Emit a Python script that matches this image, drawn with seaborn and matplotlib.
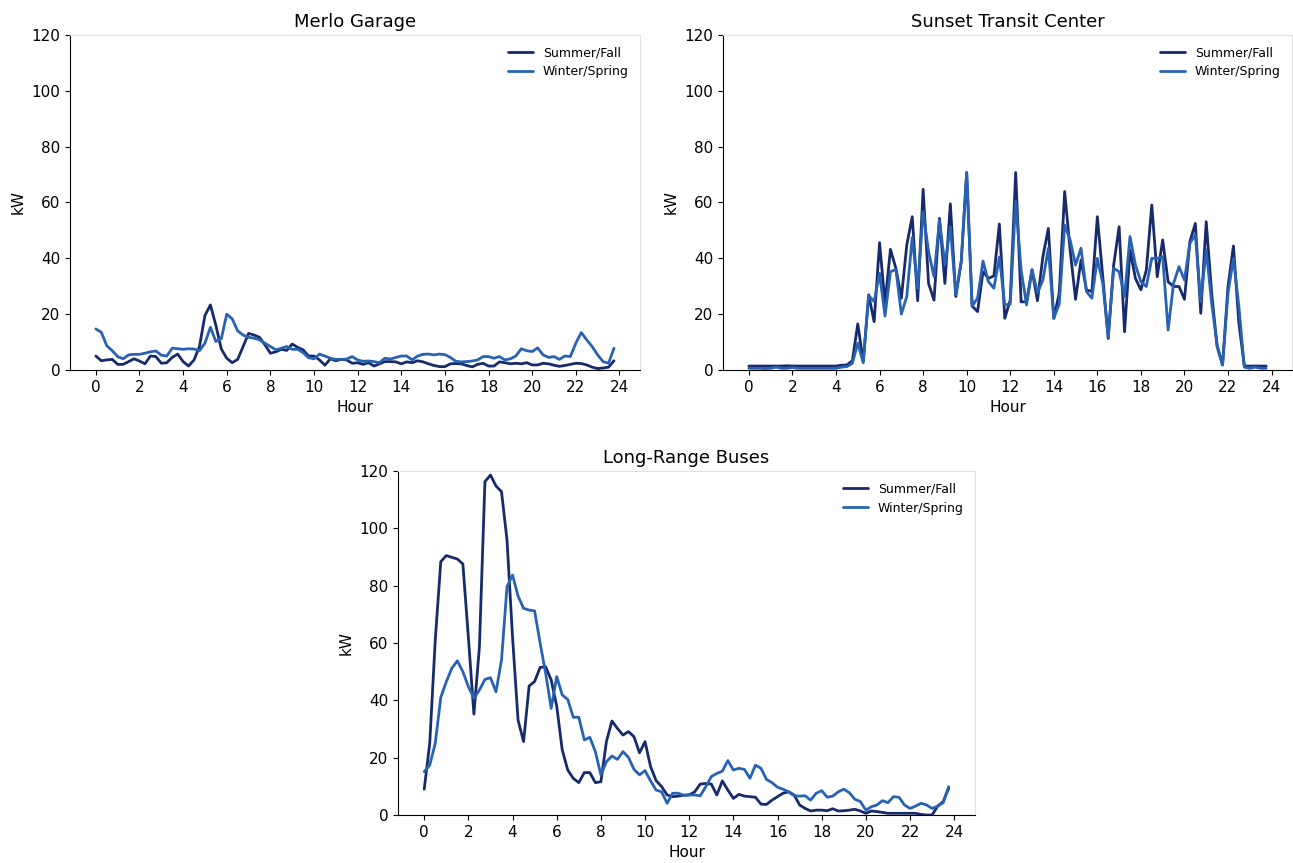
import numpy as np
import pandas as pd
import matplotlib
matplotlib.use("Agg")
import matplotlib.pyplot as plt
import seaborn as sns

# === 15-minute load profiles (kW) ===
hours = np.arange(96) * 0.25
seasons = ["Summer/Fall", "Winter/Spring"]

merlo_summer = [
    5, 3.3, 3.6, 3.8, 2, 2, 3, 4, 3.2, 2.2, 5, 4.8, 2.4, 2.6, 4.5, 5.7,
    3, 1.4, 3.6, 8.4, 19.5, 23.3, 16, 7.5, 4.2, 2.6, 3.8, 8.4, 13.1, 12.5, 11.7, 9,
    6, 6.5, 7.4, 7, 9.3, 8.1, 7.2, 5, 5, 3.6, 1.7, 4, 3.3, 3.8, 3.6, 2.4,
    2.6, 2, 2.6, 1.4, 2.2, 3, 3, 2.9, 2.2, 2.9, 2.6, 3.3, 2.9, 2.2, 1.6, 1.2,
    1.2, 2.2, 2.3, 2.2, 1.6, 1.1, 2, 2.4, 1.4, 1.4, 2.9, 2.6, 2.2, 2.4, 2.2, 2.6,
    1.8, 1.8, 2.4, 2.2, 1.7, 1.3, 1.6, 2, 2.4, 2.3, 1.8, 1, 0.5, 0.7, 1, 3.3,
]
merlo_winter = [
    14.7, 13.5, 8.7, 6.9, 4.8, 4, 5.4, 5.6, 5.6, 6, 6.5, 6.8, 5.3, 5, 7.8, 7.6,
    7.4, 7.6, 7.5, 6.9, 9.6, 15.3, 10.2, 11.2, 20, 18.3, 14, 12.5, 11.7, 11.4, 10.8, 9.6,
    8.4, 7.2, 7.8, 8.4, 7.4, 7.4, 6.2, 4.4, 4, 5.7, 5, 4.2, 3.8, 3.8, 3.9, 4.8,
    3.6, 3.1, 3.2, 3, 2.6, 4.2, 3.9, 4.5, 5, 5, 3.6, 5, 5.6, 5.7, 5.4, 5.7,
    5.5, 4.5, 3.1, 2.9, 3, 3.2, 3.6, 4.8, 4.8, 4.2, 4.8, 3.6, 4, 5, 7.6, 6.9,
    6.6, 7.9, 5.4, 4.5, 4.8, 3.8, 5, 4.8, 9.6, 13.4, 10.8, 8.4, 5.4, 3, 2.4, 7.8,
]

sunset_summer = [
    1.4, 1.4, 1.4, 1.4, 1.4, 1.4, 1.4, 1.5, 1.4, 1.4, 1.4, 1.4, 1.4, 1.4, 1.4, 1.4,
    1.4, 1.7, 1.8, 3.3, 16.5, 3, 26.9, 17.3, 45.6, 23.9, 43.2, 36.4, 25.7, 44.8, 54.9, 24.8,
    64.7, 31, 25, 54.3, 31, 59.5, 26.3, 38.8, 70.7, 22.9, 20.9, 35.2, 32.8, 33.7, 52.3, 18.5,
    25, 70.7, 24.4, 24.4, 35.8, 24.8, 40.6, 50.7, 18.5, 27.5, 63.9, 43, 25.3, 39.4, 28.7, 28.1,
    54.9, 33.4, 11.3, 37.6, 51.3, 13.7, 43, 32.8, 28.7, 35.8, 59.1, 33.4, 46.6, 31.6, 29.9, 29.9,
    25.3, 46, 52.5, 20.3, 53.1, 27.5, 8.4, 1.8, 29.9, 44.4, 16.7, 1.4, 1.4, 1.4, 1.4, 1.4,
]
sunset_winter = [
    0.6, 0.6, 0.6, 0.5, 0.6, 1.0, 0.6, 0.6, 0.9, 0.6, 0.6, 0.6, 0.6, 0.6, 0.6, 0.6,
    0.6, 1, 1.2, 2.4, 9.6, 2.6, 26.6, 24.5, 34.6, 19.3, 35.2, 36, 20, 26.3, 47.5, 29.3,
    56.7, 42.4, 33.4, 53.7, 37.6, 51.3, 26.9, 38.8, 70.7, 22.9, 25.7, 39, 31.6, 29.3, 40.4, 23.3,
    23.6, 60.5, 35.8, 23.3, 36, 27.7, 32.2, 43.6, 18.5, 23.6, 51.9, 46.6, 37.6, 43.6, 28.1, 25.7,
    40, 31, 11.9, 36.4, 35.2, 26.3, 47.8, 37.6, 31.6, 29.9, 40, 40, 40.6, 14.3, 31, 37,
    32.2, 45.4, 48.4, 24.5, 43, 23.9, 9, 1.8, 27.5, 40, 22.7, 1, 0.6, 1, 0.6, 0.6,
]

longrange_summer = [
    9, 25, 61, 88.4, 90.5, 89.9, 89.3, 87.6, 62, 35.2, 58.7, 116.3, 118.6, 114.8, 112.8, 95.9,
    62, 33.1, 25.6, 45, 46.6, 51.5, 51.7, 47.1, 38, 22.7, 15.7, 12.8, 11.3, 14.8, 14.8, 11.3,
    11.6, 25.6, 32.8, 30.2, 27.9, 29.1, 27.3, 21.7, 25.6, 16.9, 12, 9.9, 7, 6.4, 6.6, 6.9,
    7, 8.1, 10.8, 11, 10.8, 7, 11.9, 8.7, 5.8, 7.2, 6.6, 6.4, 6.2, 3.8, 3.7, 5.2,
    6.4, 7.6, 8.1, 7, 3.5, 2.3, 1.4, 1.7, 1.7, 1.5, 2.2, 1.4, 1.5, 1.7, 2, 1.4,
    0.6, 1.4, 1.2, 0.9, 0.6, 0.6, 0.6, 0.6, 0.6, 0.6, 0.2, 0, 0, 3.1, 4.7, 9.3,
]
longrange_winter = [
    15.1, 17.4, 25, 41, 46.5, 51.2, 53.8, 50, 44.8, 40.7, 43.6, 47.3, 47.9, 43, 54, 79.7,
    83.7, 76.4, 72.1, 71.5, 71.2, 59.9, 49.4, 37.2, 48.3, 41.9, 40.3, 34.1, 34.1, 26.2, 27.1, 22.1,
    14, 18.6, 20.6, 19.4, 22.1, 20.1, 15.9, 14, 15.5, 11.9, 8.7, 8.1, 4.1, 7.6, 7.6, 6.9,
    7, 7, 6.7, 9.9, 13.4, 14.5, 15.3, 19, 15.7, 16.3, 15.9, 12.8, 17.4, 16.3, 12.4, 11.3,
    9.7, 9, 8.1, 6.7, 6.6, 6.7, 5.2, 7.6, 8.5, 6.2, 6.6, 8.1, 9, 7.8, 5.5, 4.7,
    1.7, 2.9, 3.5, 5, 4.3, 6.4, 6.2, 3.5, 2.3, 3.1, 4.1, 3.5, 2.3, 3.1, 4.3, 9.9,
]

sites = {
    "Merlo Garage": (merlo_summer, merlo_winter),
    "Sunset Transit Center": (sunset_summer, sunset_winter),
    "Long-Range Buses": (longrange_summer, longrange_winter),
}

# === Build long-format table ===
rows = []
for site, (summer, winter) in sites.items():
    for season, vals in zip(seasons, (summer, winter)):
        for h, v in zip(hours, vals):
            rows.append({"Site": site, "Season": season, "Hour": h, "kW": v})
df = pd.DataFrame(rows)

# === Plot ===
sns.set_style("ticks", {"axes.edgecolor": "black", "text.color": "black",
                        "axes.labelcolor": "black", "xtick.color": "black",
                        "ytick.color": "black"})
palette = {"Summer/Fall": "#172a6b", "Winter/Spring": "#2862b3"}

fig = plt.figure(figsize=(12.93, 8.63), dpi=100)
positions = {
    "Merlo Garage": [0.0541, 0.5713, 0.4408, 0.3882],
    "Sunset Transit Center": [0.5592, 0.5713, 0.4400, 0.3882],
    "Long-Range Buses": [0.3078, 0.0556, 0.4462, 0.3986],
}

for site, pos in positions.items():
    ax = fig.add_axes(pos)
    sns.lineplot(data=df[df["Site"] == site], x="Hour", y="kW", hue="Season",
                 palette=palette, linewidth=2, ax=ax)
    ax.set_title(site, fontsize=13)
    ax.set_ylim(0, 120)
    ax.set_xticks(range(0, 25, 2))
    ax.set_yticks(range(0, 121, 20))
    ax.tick_params(labelsize=11)
    ax.set_xlabel("Hour", fontsize=11)
    ax.set_ylabel("kW", fontsize=11)
    for side in ["top", "right"]:
        ax.spines[side].set_color("#e0e0e0")
        ax.spines[side].set_linewidth(0.8)
    ax.legend(title=None, loc="upper right", frameon=False, fontsize=9)

plt.savefig("out.png", dpi=100)
